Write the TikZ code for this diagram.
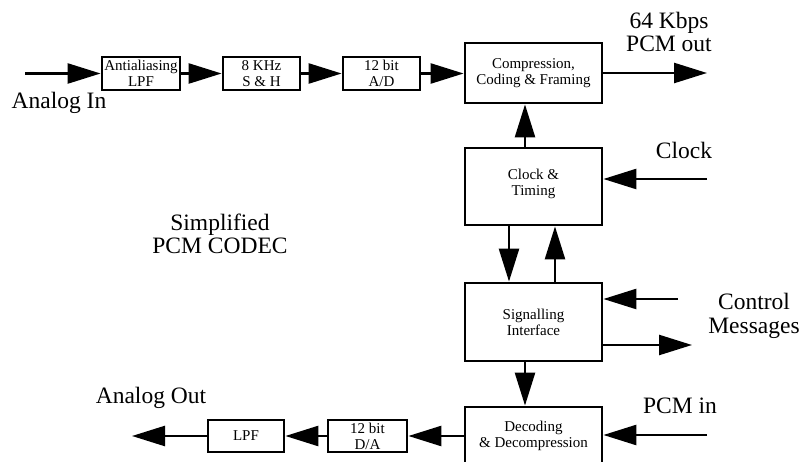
\documentclass[tikz,border=0pt]{standalone}
\usepackage{fontspec}
\setmainfont{Liberation Serif}
\usetikzlibrary{arrows.meta}

\begin{document}
\begin{tikzpicture}[
  x=1pt, y=-1pt,
  box/.style={
    draw,
    line width=2.8pt,
    align=center,
    inner sep=0pt,
    font=\fontsize{15}{16}\selectfont
  },
  lbl/.style={
    align=center,
    inner sep=0pt,
    font=\fontsize{23.5}{23.5}\selectfont
  },
  arr/.style={-{Triangle[length=33pt,width=20pt]}, line width=2.5pt}
]
\useasboundingbox (0,0) rectangle (801,462);
\clip (0,0) rectangle (801,462);

\node[box, minimum width=78pt, minimum height=33pt] (aa) at (141,73.5) {Antialiasing\\LPF};
\node[box, minimum width=77pt, minimum height=33pt] (sh) at (261.5,73.5) {8 KHz\\S \& H};
\node[box, minimum width=77pt, minimum height=33pt] (ad) at (381.5,73.5) {12 bit\\A/D};
\node[box, minimum width=137pt, minimum height=60pt] (comp) at (533.5,73) {Compression,\\Coding \& Framing};
\node[box, minimum width=137pt, minimum height=77pt] (clk) at (533.5,186.5) {Clock \&\\Timing\\[-7pt]\mbox{}};
\node[box, minimum width=137pt, minimum height=78pt] (sig) at (533.5,322) {Signalling\\Interface};
\node[box, minimum width=137pt, minimum height=58pt] (dec) at (533.5,436) {Decoding\\\& Decompression};
\node[box, minimum width=79pt, minimum height=32pt] (da) at (367.5,436) {12 bit\\D/A};
\node[box, minimum width=76pt, minimum height=32pt] (lpf) at (246,436) {LPF};

\node[lbl] (inlbl) at (59,103) {Analog In};
\node[lbl] (outlbl) at (669,32) {64 Kbps\\PCM out};
\node[lbl] (clklbl) at (684,150) {Clock};
\node[lbl] (ctllbl) at (754,316) {Control\\Messages};
\node[lbl] (pcmlbl) at (680,406) {PCM in};
\node[lbl] (aoutlbl) at (151,398) {Analog Out};
\node[lbl] (title) at (220,234) {Simplified\\PCM CODEC};

\coordinate (ain) at (25,73.5);
\coordinate (pcmout) at (707,73);
\coordinate (clkin) at (707,179);
\coordinate (ctlin) at (678,299);
\coordinate (ctlout) at (692,345);
\coordinate (pcmin) at (707,435);
\coordinate (aout) at (132,436);

\draw[arr] (ain) -- (aa.west);
\draw[arr] (aa.east) -- (sh.west);
\draw[arr] (sh.east) -- (ad.west);
\draw[arr] (ad.east) -- (ad.east -| comp.west);
\draw[arr] (comp.east) -- (pcmout);
\draw[arr] ([xshift=-8.5pt]clk.north) -- ([xshift=-8.5pt]comp.south);
\draw[arr] (clkin) -- (clkin -| clk.east);
\draw[arr] ([xshift=-24.5pt]clk.south) -- ([xshift=-24.5pt]sig.north);
\draw[arr] ([xshift=21.5pt]sig.north) -- ([xshift=21.5pt]clk.south);
\draw[arr] (ctlin) -- (ctlin -| sig.east);
\draw[arr] (ctlout -| sig.east) -- (ctlout);
\draw[arr] ([xshift=-8.5pt]sig.south) -- ([xshift=-8.5pt]dec.north);
\draw[arr] (pcmin) -- (pcmin -| dec.east);
\draw[arr] (da -| dec.west) -- (da.east);
\draw[arr] (da.west) -- (lpf.east);
\draw[arr] (lpf.west) -- (aout);
\end{tikzpicture}
\end{document}
